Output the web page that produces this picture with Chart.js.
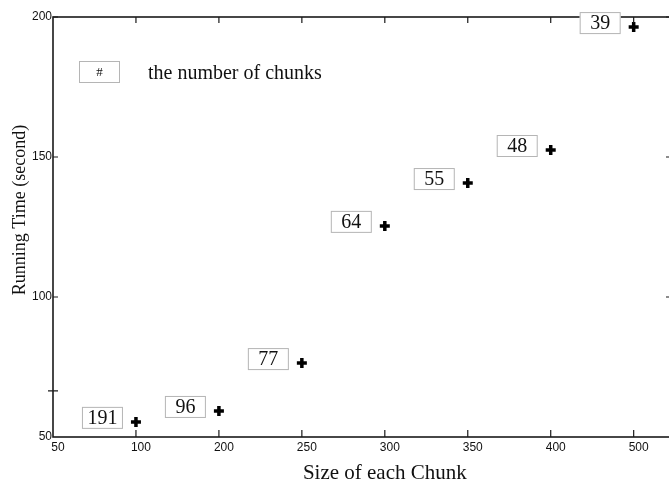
<!DOCTYPE html>
<html lang="en">
<head>
<meta charset="UTF-8">
<title>Running Time vs Size of each Chunk</title>
<script src="https://cdn.jsdelivr.net/npm/chart.js"></script>
<style>
  html, body { margin: 0; padding: 0; background: #fff; overflow: hidden; }
  .wrap { width: 669px; height: 482px; overflow: hidden; }
</style>
</head>
<body>
<div class="wrap"><canvas id="chunkChart" width="690" height="482"></canvas></div>
<script>
// axis tick labels (evenly spaced on the original axis)
const xTickLabels = ['50', '100', '200', '250', '300', '350', '400', '500'];
const yTicks = [50, 100, 150, 200];
const yMinorTicks = [66.5];

// measured points
const chunkSizes = ['100', '200', '250', '300', '350', '400', '500'];
const runningTime = [55.4, 59.3, 76.4, 125.4, 140.7, 152.5, 196.4];
const chunkCounts = [191, 96, 77, 64, 55, 48, 39];

const SERIF = '"Liberation Serif", "Times New Roman", serif';
const SANS = '"Liberation Sans", Arial, sans-serif';

function labelBox(ctx, text, right, cy, w, h, font) {
    ctx.fillStyle = '#fff';
    ctx.fillRect(right - w, cy - h / 2, w, h);
    ctx.strokeStyle = '#b5b5b5';
    ctx.lineWidth = 1;
    ctx.strokeRect(right - w + 0.5, cy - h / 2 + 0.5, w - 1, h - 1);
    ctx.fillStyle = '#111';
    ctx.font = font;
    ctx.textAlign = 'center';
    ctx.textBaseline = 'middle';
    ctx.fillText(text, right - w / 2, cy + 1);
}

const framePlugin = {
    id: 'frame',
    afterDatasetsDraw(chart) {
        const { ctx, chartArea: a, scales: { x, y } } = chart;
        ctx.save();

        // box frame
        ctx.strokeStyle = '#1a1a1a';
        ctx.lineWidth = 1.6;
        ctx.strokeRect(a.left, a.top, a.right - a.left, a.bottom - a.top);

        // inward ticks
        ctx.lineWidth = 1.2;
        ctx.beginPath();
        xTickLabels.forEach((lab, i) => {
            if (i === 0) return;
            const px = x.getPixelForValue(i);
            ctx.moveTo(px, a.bottom); ctx.lineTo(px, a.bottom - 7);
            ctx.moveTo(px, a.top); ctx.lineTo(px, a.top + 6);
        });
        yTicks.forEach(v => {
            if (v === yTicks[0]) return;
            const py = y.getPixelForValue(v);
            ctx.moveTo(a.left, py); ctx.lineTo(a.left + 5, py);
            ctx.moveTo(a.right, py); ctx.lineTo(a.right - 5, py);
        });
        yMinorTicks.forEach(v => {
            const py = y.getPixelForValue(v);
            ctx.moveTo(a.left - 5, py); ctx.lineTo(a.left + 5, py);
        });
        ctx.stroke();

        // x tick labels
        ctx.fillStyle = '#111';
        ctx.font = '12px ' + SANS;
        ctx.textAlign = 'center';
        ctx.textBaseline = 'middle';
        xTickLabels.forEach((lab, i) => {
            ctx.fillText(lab, x.getPixelForValue(i) + 5, a.bottom + 11);
        });

        // axis titles
        ctx.font = '21px ' + SERIF;
        ctx.textBaseline = 'alphabetic';
        ctx.fillText('Size of each Chunk', x.getPixelForValue(4), 479);
        ctx.save();
        ctx.translate(25, 210);
        ctx.rotate(-Math.PI / 2);
        ctx.font = '18px ' + SERIF;
        ctx.fillText('Running Time (second)', 0, 0);
        ctx.restore();

        // number-of-chunks boxes next to each point
        const pts = chart.getDatasetMeta(0).data;
        pts.forEach((p, i) => {
            labelBox(ctx, String(chunkCounts[i]), p.x - 13, p.y - 4, 41, 22, '20px ' + SERIF);
        });

        // key
        labelBox(ctx, '#', 120, 72, 41, 22, '13px ' + SERIF);
        ctx.fillStyle = '#111';
        ctx.font = '20px ' + SERIF;
        ctx.textAlign = 'left';
        ctx.textBaseline = 'alphabetic';
        ctx.fillText('the number of chunks', 148, 79);

        ctx.restore();
    }
};

const ctx = document.getElementById('chunkChart').getContext('2d');
const chunkChart = new Chart(ctx, {
    type: 'scatter',
    data: {
        datasets: [{
            label: 'Running Time',
            data: chunkSizes.map((s, i) => ({ x: xTickLabels.indexOf(s), y: runningTime[i] })),
            pointStyle: 'cross',
            pointRadius: 5,
            pointHoverRadius: 5,
            borderWidth: 3.5,
            borderColor: '#000',
            backgroundColor: '#000'
        }]
    },
    options: {
        responsive: false,
        animation: false,
        devicePixelRatio: 1,
        layout: { padding: { left: 0, right: 19, top: 17, bottom: 0 } },
        plugins: {
            legend: { display: false },
            tooltip: { enabled: false }
        },
        scales: {
            x: {
                type: 'linear',
                min: 0,
                max: 7.45,
                ticks: { display: false },
                grid: { display: false, drawTicks: false },
                border: { display: false },
                afterFit: s => { s.height = 45; }
            },
            y: {
                min: 50,
                max: 200,
                ticks: {
                    stepSize: 50,
                    padding: 1,
                    color: '#111',
                    font: { family: 'Liberation Sans', size: 12 }
                },
                grid: { display: false, drawTicks: false },
                border: { display: false },
                afterFit: s => { s.width = 53; }
            }
        }
    },
    plugins: [framePlugin]
});
</script>
</body>
</html>
